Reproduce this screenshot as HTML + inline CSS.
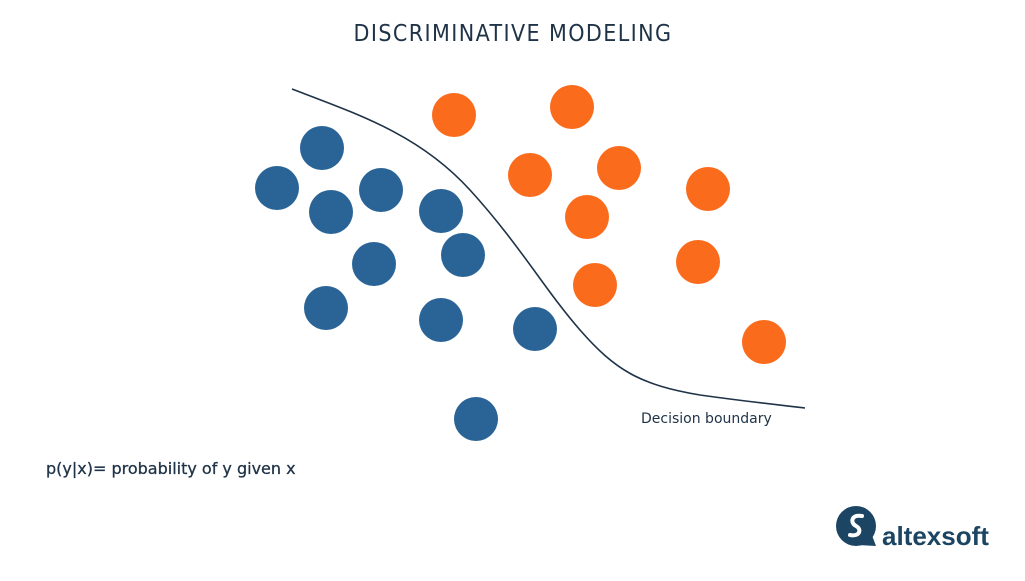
<!DOCTYPE html>
<html><head><style>
body{margin:0;background:#fff;width:1025px;height:577px;overflow:hidden;font-family:"DejaVu Sans","Liberation Sans",sans-serif}
</style></head><body>
<svg width="1025" height="577" xmlns="http://www.w3.org/2000/svg">
<text x="513" y="41" text-anchor="middle" font-size="23" letter-spacing="1.4" fill="#1f3347" font-family="DejaVu Sans Condensed, DejaVu Sans, sans-serif">DISCRIMINATIVE MODELING</text>
<path d="M292,89 C360,115 420,135 470,190 C520,245 545,290 580,330 C615,370 640,385 700,395 C750,402 780,405 805,408" fill="none" stroke="#1f3347" stroke-width="1.6"/>
<g fill="#2a6496">
<circle cx="322" cy="148" r="22"/><circle cx="277" cy="188" r="22"/><circle cx="331" cy="212" r="22"/><circle cx="381" cy="190" r="22"/><circle cx="441" cy="211" r="22"/><circle cx="463" cy="255" r="22"/><circle cx="374" cy="264" r="22"/><circle cx="326" cy="308" r="22"/><circle cx="441" cy="320" r="22"/><circle cx="535" cy="329" r="22"/><circle cx="476" cy="419" r="22"/>
</g>
<g fill="#fb6b1c">
<circle cx="454" cy="115" r="22"/><circle cx="572" cy="107" r="22"/><circle cx="530" cy="175" r="22"/><circle cx="619" cy="168" r="22"/><circle cx="708" cy="189" r="22"/><circle cx="587" cy="217" r="22"/><circle cx="698" cy="262" r="22"/><circle cx="595" cy="285" r="22"/><circle cx="764" cy="342" r="22"/>
</g>
<text x="641" y="423" font-size="14" fill="#1f3347">Decision boundary</text>
<text x="46" y="474" font-size="16" fill="#1f3347" stroke="#1f3347" stroke-width="0.3">p(y|x)= probability of y given x</text>
<circle cx="856" cy="526" r="20" fill="#1c4563"/>
<path d="M870,530 L876,546 L858,545 Z" fill="#1c4563"/>
<path d="M862,516 C851,514 850,523 856,526 C862,529 860,537 850,535" fill="none" stroke="#fff" stroke-width="4" stroke-linecap="round"/>
<text x="882" y="545" font-size="26" fill="#1c4563" font-weight="bold" font-family="Liberation Sans, sans-serif">altexsoft</text>
</svg>
</body></html>
